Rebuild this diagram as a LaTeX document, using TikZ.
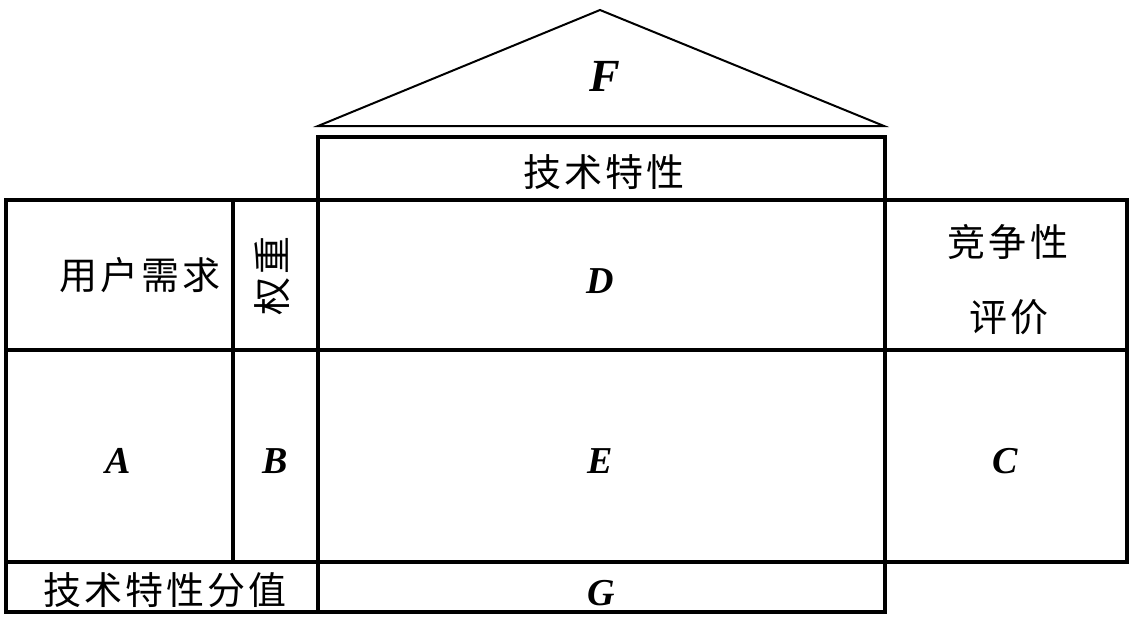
\documentclass[tikz,border=0pt]{standalone}
\usepackage{fontspec}
\setmainfont{Liberation Serif}
\newfontfamily\cjk[LetterSpace=8]{Noto Sans CJK SC}
\begin{document}
\begin{tikzpicture}[x=1pt,y=-1pt,
  cell/.style={draw=black,line width=3.3pt,anchor=north west,inner sep=0pt,outer sep=0pt},
  zh/.style={font=\cjk\fontsize{38}{42}\selectfont,inner sep=0pt},
  lat/.style={font=\bfseries\itshape\fontsize{38}{40}\selectfont,inner sep=0pt}]
\useasboundingbox (0,0) rectangle (1142,624);
% roof
\draw[line width=2pt,line join=miter] (318,126) -- (600,10) -- (884,126) -- cycle;
\node[lat,font=\bfseries\itshape\fontsize{46}{48}\selectfont] (F) at (605,76) {F};
% cells
\node[cell,minimum width=567pt,minimum height=63pt] (tech) at (318,137) {};
\node[cell,minimum width=227pt,minimum height=150pt] (needs) at (6,200) {};
\node[cell,minimum width=85pt,minimum height=150pt] (weight) at (233,200) {};
\node[cell,minimum width=567pt,minimum height=150pt] (Dc) at (318,200) {};
\node[cell,minimum width=242pt,minimum height=150pt] (comp) at (885,200) {};
\node[cell,minimum width=227pt,minimum height=212pt] (Ac) at (6,350) {};
\node[cell,minimum width=85pt,minimum height=212pt] (Bc) at (233,350) {};
\node[cell,minimum width=567pt,minimum height=212pt] (Ec) at (318,350) {};
\node[cell,minimum width=242pt,minimum height=212pt] (Cc) at (885,350) {};
\node[cell,minimum width=312pt,minimum height=50pt] (score) at (6,562) {};
\node[cell,minimum width=567pt,minimum height=50pt] (Gc) at (318,562) {};
% texts
\node[zh] (t1) at (604,172) {技术特性};
\node[zh] (t2) at (140,275) {用户需求};
\node[zh,rotate=90] (t3) at (272,276) {权重};
\node[zh] (t4) at (1008,242) {竞争性};
\node[zh] (t5) at (1009,317) {评价};
\node[zh] (t6) at (165,590) {技术特性分值};
\node[lat] (D) at (600,281) {D};
\node[lat] (A) at (118,461) {A};
\node[lat] (B) at (275,461) {B};
\node[lat] (E) at (600,461) {E};
\node[lat] (C) at (1005,461) {C};
\node[lat] (G) at (601,593) {G};
\end{tikzpicture}
\end{document}
